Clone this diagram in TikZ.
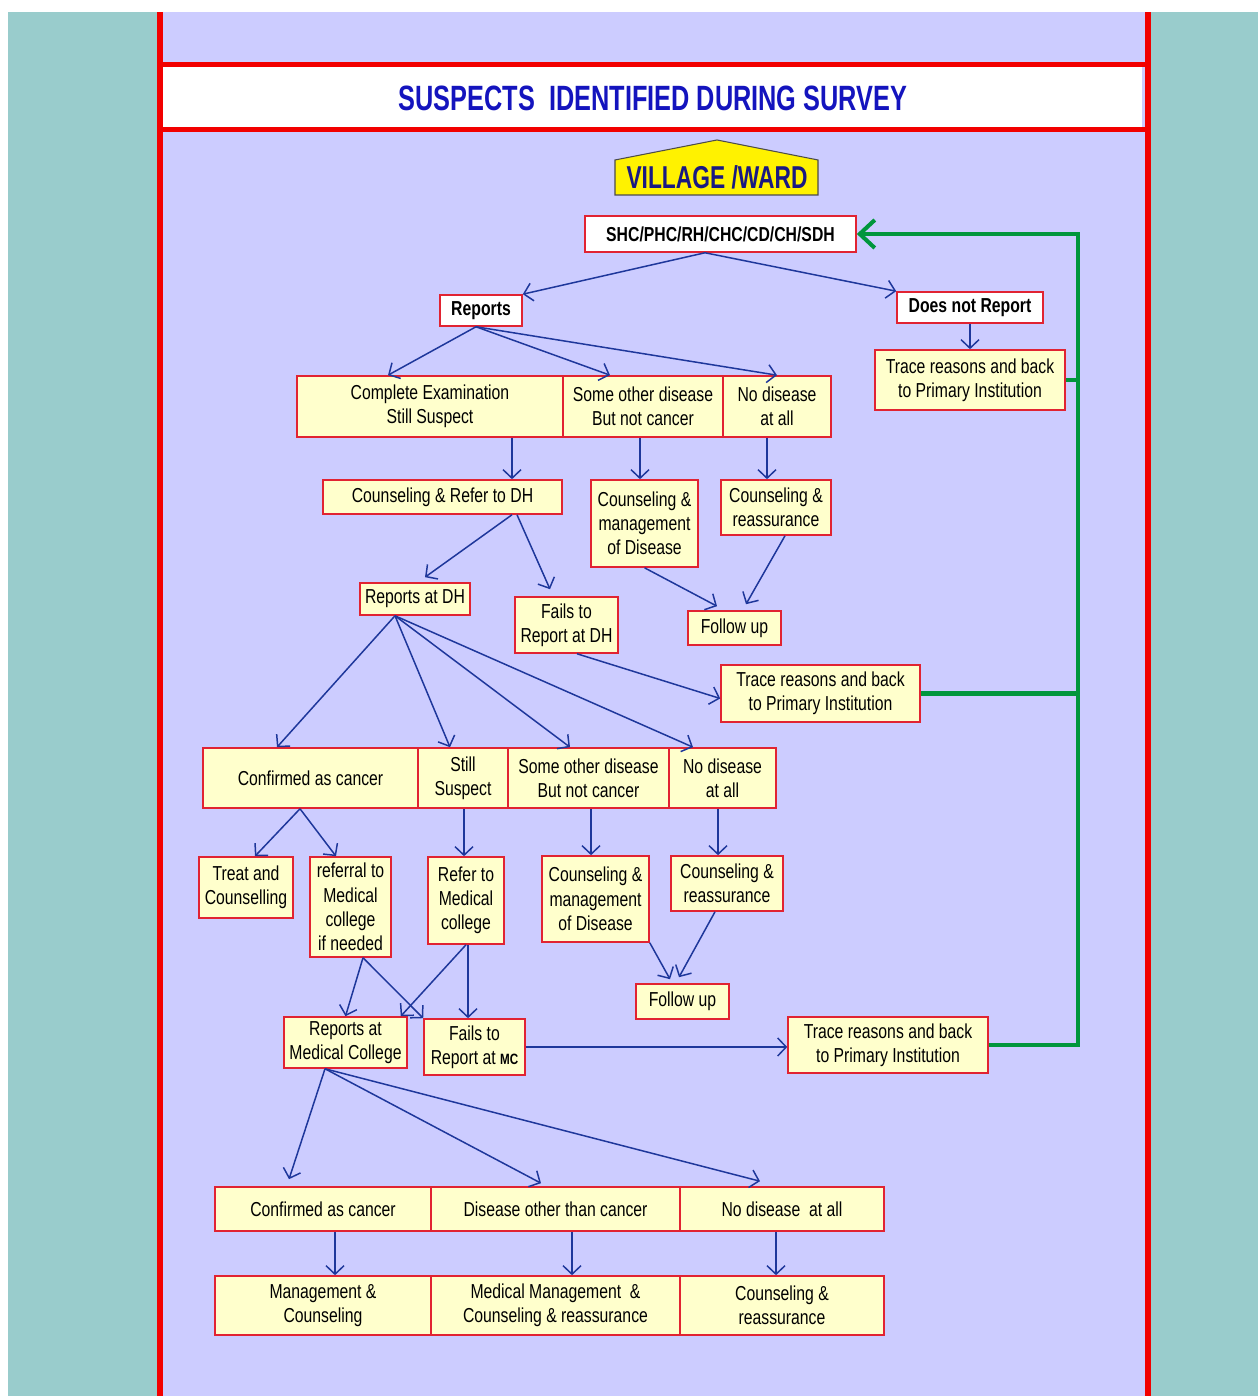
\documentclass[tikz,border=0pt]{standalone}
\usepackage{fontspec}
\setmainfont[FakeStretch=0.78]{Liberation Sans}
\newfontfamily\headfont[FakeStretch=0.72]{Liberation Sans}
\usetikzlibrary{arrows.meta}

\definecolor{sea}{RGB}{153,204,204}
\definecolor{lav}{RGB}{204,204,255}
\definecolor{framered}{RGB}{242,0,0}
\definecolor{boxred}{RGB}{225,35,50}
\definecolor{cream}{RGB}{255,255,204}
\definecolor{linkblue}{RGB}{30,55,155}
\definecolor{loopgreen}{RGB}{0,150,60}
\definecolor{titleblue}{RGB}{20,20,190}
\definecolor{navy}{RGB}{25,25,130}

\tikzset{
  cbox/.style={draw=boxred, fill=cream, line width=0.9pt, align=center, inner sep=0pt,
    font=\fontsize{11.5}{13.8}\selectfont},
  wbox/.style={cbox, fill=white, font=\fontsize{11.5}{13.8}\selectfont\bfseries},
  link/.style={->, draw=linkblue, line width=0.85pt},
  back/.style={draw=loopgreen, line width=2.3pt}
}

\begin{document}
\begin{tikzpicture}[>={Straight Barb[length=1.7mm,width=3.6mm]}]
		\useasboundingbox (0,0) rectangle (25.16,27.92);
		%\draw [help lines] (0,0) grid (25,27);
		% Sfondo e cornice
		\fill[white] (0,0) rectangle (25.16,27.92);
		\fill[sea] (0.16,0) rectangle (25.16,27.68);
		\fill[lav] (3.2,0) rectangle (22.95,27.68);
		\fill[white] (3.26,25.38) rectangle (22.84,26.58);
		\draw[framered, line width=0.12cm] (3.2,0) -- (3.2,27.68);
		\draw[framered, line width=0.12cm] (22.95,0) -- (22.95,27.68);
		\draw[framered, line width=0.1cm] (3.2,26.63) -- (22.95,26.63);
		\draw[framered, line width=0.1cm] (3.2,25.33) -- (22.95,25.33);
		\node[font=\headfont\bfseries\fontsize{20}{24}\selectfont, text=titleblue] (title) at (13.06,25.96) {SUSPECTS\ \ IDENTIFIED DURING SURVEY};
		% Villaggio
		\draw[fill=yellow, draw=black!70, line width=0.6pt] (12.3,24.02) -- (12.3,24.72) -- (14.34,25.12) -- (16.36,24.72) -- (16.36,24.02) -- cycle;
		\node[font=\headfont\bfseries\fontsize{18}{22}\selectfont, text=navy] (ward) at (14.34,24.37) {VILLAGE /WARD};
		% Primo livello
		\node[wbox, minimum width=5.42cm, minimum height=0.72cm] (shc) at (14.41,23.24) {SHC/PHC/RH/CHC/CD/CH/SDH};
		\node[wbox, minimum width=1.64cm, minimum height=0.62cm] (rep) at (9.62,21.71) {Reports};
		\node[wbox, minimum width=2.92cm, minimum height=0.62cm] (nrep) at (19.4,21.77) {Does not Report};
		\node[cbox, minimum width=3.8cm, minimum height=1.2cm] (tr1) at (19.4,20.32) {Trace reasons and back\\to Primary Institution};
		\draw[link] ([xshift=-3.1mm]shc.south) -- (rep.north east);
		\draw[link] ([xshift=-3.1mm]shc.south) -- (nrep.north west);
		\draw[link] (nrep.south) -- (tr1.north);
		% Esito al centro primario
		\node[cbox, minimum width=5.32cm, minimum height=1.22cm] (ca) at (8.6,19.79) {Complete Examination\\Still Suspect};
		\node[cbox, minimum width=3.2cm, minimum height=1.22cm] (cb) at (12.86,19.79) {Some other disease\\But not cancer};
		\node[cbox, minimum width=2.16cm, minimum height=1.22cm] (cc) at (15.54,19.79) {No disease\\at all};
		\draw[link] ([xshift=-1mm]rep.south) -- ([xshift=-8.4mm]ca.north);
		\draw[link] ([xshift=-1mm]rep.south) -- ([xshift=-6.6mm]cb.north);
		\draw[link] ([xshift=-1mm]rep.south) -- (cc.north);
		\node[cbox, minimum width=4.78cm, minimum height=0.68cm] (refdh) at (8.85,17.98) {Counseling \& Refer to DH};
		\node[cbox, minimum width=2.14cm, minimum height=1.74cm] (cm1) at (12.89,17.45) {Counseling \&\\management\\of Disease};
		\node[cbox, minimum width=2.2cm, minimum height=1.1cm] (cr1) at (15.52,17.77) {Counseling \&\\reassurance};
		\draw[link] (ca.south -| 10.24,0) -- (refdh.north -| 10.24,0);
		\draw[link] (cb.south -| 12.8,0) -- (cm1.north -| 12.8,0);
		\draw[link] (cc.south -| 15.34,0) -- (cr1.north -| 15.34,0);
		% Ospedale distrettuale
		\node[cbox, minimum width=2.2cm, minimum height=0.64cm] (rdh) at (8.3,15.94) {Reports at DH};
		\node[cbox, minimum width=2.06cm, minimum height=1.12cm] (fdh) at (11.33,15.42) {Fails to\\Report at DH};
		\node[cbox, minimum width=1.86cm, minimum height=0.68cm] (fu1) at (14.69,15.36) {Follow up};
		\node[cbox, minimum width=3.98cm, minimum height=1.14cm] (tr2) at (16.41,14.05) {Trace reasons and back\\to Primary Institution};
		\draw[link] ([xshift=13.9mm]refdh.south) -- ([xshift=2mm,yshift=1mm]rdh.north);
		\draw[link] ([xshift=14.9mm]refdh.south) -- ([xshift=-3.3mm,yshift=1.4mm]fdh.north);
		\draw[link] (cm1.south) -- ([xshift=-3.5mm,yshift=0.8mm]fu1.north);
		\draw[link] ([xshift=1.8mm]cr1.south) -- ([xshift=2.3mm,yshift=1.2mm]fu1.north);
		\draw[link] ([xshift=2.1mm]fdh.south) -- ([yshift=-1mm]tr2.west);
		% Esito al DH
		\node[cbox, minimum width=4.3cm, minimum height=1.2cm] (da) at (6.21,12.36) {Confirmed as cancer};
		\node[cbox, minimum width=1.8cm, minimum height=1.2cm] (db) at (9.26,12.36) {Still\\Suspect};
		\node[cbox, minimum width=3.22cm, minimum height=1.2cm] (dc) at (11.77,12.36) {Some other disease\\But not cancer};
		\node[cbox, minimum width=2.14cm, minimum height=1.2cm] (dd) at (14.45,12.36) {No disease\\at all};
		\draw[link] ([xshift=-4mm]rdh.south) -- ([xshift=-6.7mm]da.north);
		\draw[link] ([xshift=-4mm]rdh.south) -- ([xshift=-2.6mm]db.north);
		\draw[link] ([xshift=-4mm]rdh.south) -- ([xshift=-3.7mm]dc.north);
		\draw[link] ([xshift=-4mm]rdh.south) -- ([xshift=-5.9mm]dd.north);
		\node[cbox, minimum width=1.88cm, minimum height=1.22cm] (tc) at (4.92,10.17) {Treat and\\Counselling};
		\node[cbox, minimum width=1.62cm, minimum height=2.0cm] (rmc) at (7.01,9.78) {referral to\\Medical\\college\\if needed};
		\node[cbox, minimum width=1.52cm, minimum height=1.74cm] (refmc) at (9.32,9.91) {Refer to\\Medical\\college};
		\node[cbox, minimum width=2.14cm, minimum height=1.72cm] (cm2) at (11.91,9.94) {Counseling \&\\management\\of Disease};
		\node[cbox, minimum width=2.24cm, minimum height=1.1cm] (cr2) at (14.54,10.25) {Counseling \&\\reassurance};
		\node[cbox, minimum width=1.86cm, minimum height=0.7cm] (fu2) at (13.65,7.89) {Follow up};
		\draw[link] ([xshift=-2.1mm]da.south) -- ([xshift=1.8mm]tc.north);
		\draw[link] ([xshift=-2.1mm]da.south) -- ([xshift=-2.9mm]rmc.north);
		\draw[link] (db.south -| 9.28,0) -- (refmc.north -| 9.28,0);
		\draw[link] (dc.south -| 11.82,0) -- (cm2.north -| 11.82,0);
		\draw[link] (dd.south -| 14.36,0) -- (cr2.north -| 14.36,0);
		\draw[link] (cm2.south east) -- ([xshift=-2.5mm,yshift=0.8mm]fu2.north);
		\draw[link] ([xshift=-2.4mm]cr2.south) -- ([xshift=-0.7mm,yshift=1.2mm]fu2.north);
		% Medical College
		\node[cbox, minimum width=2.46cm, minimum height=1.02cm] (rmcol) at (6.91,7.07) {Reports at\\Medical College};
		\node[cbox, minimum width=2.02cm, minimum height=1.12cm] (fmc) at (9.49,6.98) {Fails to\\Report at {\bfseries\fontsize{8.5}{10}\selectfont MC}};
		\node[cbox, minimum width=4.0cm, minimum height=1.12cm] (tr3) at (17.76,7.02) {Trace reasons and back\\to Primary Institution};
		\draw[link] ([xshift=2.5mm]rmc.south) -- (rmcol.north);
		\draw[link] ([xshift=2.5mm]rmc.south) -- (fmc.north west);
		\draw[link] (refmc.south) -- ([xshift=-1.4mm]rmcol.north east);
		\draw[link] (refmc.south -| 9.36,0) -- (fmc.north -| 9.36,0);
		\draw[link] (fmc.east) -- (fmc.east -| tr3.west);
		% Esito al Medical College
		\node[cbox, minimum width=4.32cm, minimum height=0.88cm] (ea) at (6.46,3.74) {Confirmed as cancer};
		\node[cbox, minimum width=4.98cm, minimum height=0.88cm] (eb) at (11.11,3.74) {Disease other than cancer};
		\node[cbox, minimum width=4.08cm, minimum height=0.88cm] (ec) at (15.64,3.74) {No disease\ \ at all};
		\node[cbox, minimum width=4.32cm, minimum height=1.18cm] (fa) at (6.46,1.81) {Management \&\\Counseling};
		\node[cbox, minimum width=4.98cm, minimum height=1.18cm] (fb) at (11.11,1.81) {Medical Management\ \ \&\\Counseling \& reassurance};
		\node[cbox, minimum width=4.08cm, minimum height=1.18cm] (fc) at (15.64,1.81) {Counseling \&\\reassurance};
		\draw[link] ([xshift=-4.1mm]rmcol.south) -- ([xshift=-6.8mm,yshift=1.4mm]ea.north);
		\draw[link] ([xshift=-4.1mm]rmcol.south) -- ([xshift=-2.9mm,yshift=0.6mm]eb.north);
		\draw[link] ([xshift=-4.1mm]rmcol.south) -- ([xshift=-4.4mm,yshift=1mm]ec.north);
		\draw[link] (ea.south -| 6.7,0) -- (fa.north -| 6.7,0);
		\draw[link] (eb.south -| 11.44,0) -- (fb.north -| 11.44,0);
		\draw[link] (ec.south -| 15.52,0) -- (fc.north -| 15.52,0);
		% Ritorno all'istituzione primaria
		\coordinate (loop) at (21.56,23.24);
		\draw[back, -{Straight Barb[length=3mm,width=5.6mm]}] (tr3.east) -| (loop) -- (shc.east);
		\draw[back] (tr1.east) -- (tr1.east -| loop);
		\draw[back] (tr2.east) -- (tr2.east -| loop);
	\end{tikzpicture}
\end{document}
